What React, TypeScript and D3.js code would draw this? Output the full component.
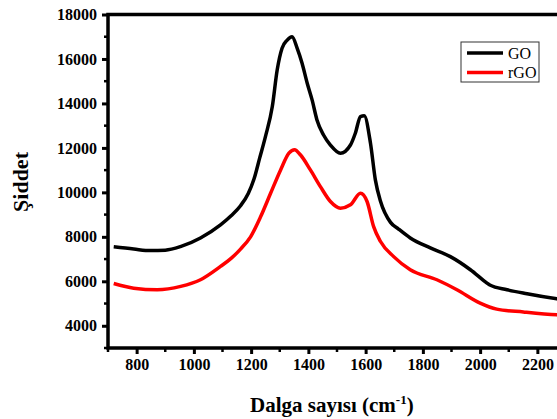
import React, { useEffect, useRef } from "react";
import * as d3 from "d3";

// Raman spectra (wavenumber, intensity)
const goWave = [720, 790, 849, 900, 953, 1023, 1093, 1130, 1163, 1190, 1210, 1230, 1250, 1274, 1291, 1308, 1326, 1343, 1361, 1378, 1396, 1413, 1430, 1453, 1477, 1512, 1547, 1564, 1582, 1595, 1617, 1634, 1652, 1687, 1715, 1756, 1826, 1896, 1966, 2024, 2034, 2094, 2164, 2268, 2300];
const goInt = [7550, 7450, 7380, 7400, 7560, 7950, 8540, 8950, 9400, 9950, 10600, 11550, 12510, 13860, 15500, 16480, 16850, 17000, 16480, 15810, 14910, 14160, 13260, 12580, 12130, 11760, 12130, 12660, 13410, 13450, 12210, 10560, 9600, 8650, 8350, 7950, 7500, 7110, 6520, 5920, 5830, 5620, 5440, 5210, 5150];

const rgoWave = [720, 790, 872, 954, 1023, 1093, 1130, 1163, 1198, 1233, 1268, 1303, 1332, 1352, 1372, 1407, 1442, 1477, 1512, 1547, 1582, 1605, 1628, 1652, 1698, 1756, 1849, 1919, 2000, 2058, 2151, 2268, 2300];
const rgoInt = [5900, 5690, 5620, 5770, 6070, 6670, 7030, 7450, 8000, 8900, 9960, 11010, 11760, 11920, 11690, 11010, 10260, 9590, 9290, 9440, 9960, 9590, 8460, 7790, 7110, 6520, 6070, 5620, 5020, 4750, 4620, 4490, 4470];

const xTicks = [800, 1000, 1200, 1400, 1600, 1800, 2000, 2200];
const yTicks = [4000, 6000, 8000, 10000, 12000, 14000, 16000, 18000];

const seriesNames = ["GO", "rGO"];
const seriesColors = ["#000000", "#ff0000"];

const W = 557;
const H = 419;

const App = () => {
  const svgRef = useRef<SVGSVGElement>(null);

  useEffect(() => {
    const svg = d3.select(svgRef.current);
    svg.selectAll("*").remove();

    const left = 108;
    const right = 566;
    const top = 14.5;
    const bottom = 348;

    const x = d3.scaleLinear().domain([700, 2300]).range([left, right]);
    const y = d3.scaleLinear().domain([3000, 18000]).range([bottom, top]);

    const font = "'Liberation Serif', 'Times New Roman', serif";

    // curves
    const line = d3
      .line<[number, number]>()
      .x((d) => x(d[0]))
      .y((d) => y(d[1]))
      .curve(d3.curveMonotoneX);

    const series = [
      goWave.map((w, i) => [w, goInt[i]] as [number, number]),
      rgoWave.map((w, i) => [w, rgoInt[i]] as [number, number]),
    ];

    series.forEach((s, i) => {
      svg
        .append("path")
        .datum(s)
        .attr("d", line)
        .attr("fill", "none")
        .attr("stroke", seriesColors[i])
        .attr("stroke-width", 3.5)
        .attr("stroke-linejoin", "round");
    });

    // frame
    svg
      .append("rect")
      .attr("x", left)
      .attr("y", top)
      .attr("width", right - left)
      .attr("height", bottom - top)
      .attr("fill", "none")
      .attr("stroke", "#000")
      .attr("stroke-width", 3.5);

    // x axis
    const xAxis = d3
      .axisBottom(x)
      .tickValues(xTicks)
      .tickFormat(d3.format("d"))
      .tickSize(6)
      .tickPadding(5);
    const gx = svg
      .append("g")
      .attr("transform", `translate(0,${bottom})`)
      .call(xAxis)
      .attr("font-family", font)
      .attr("font-weight", "bold")
      .attr("font-size", 16);
    gx.select(".domain").remove();
    gx.selectAll(".tick line").attr("stroke-width", 3);
    gx.selectAll(".tick text").attr("fill", "#000");

    const xMinor = d3.range(700, 2301, 100).filter((v) => !xTicks.includes(v));
    svg
      .append("g")
      .selectAll("line")
      .data(xMinor)
      .enter()
      .append("line")
      .attr("x1", (d) => x(d))
      .attr("x2", (d) => x(d))
      .attr("y1", bottom)
      .attr("y2", bottom + 4)
      .attr("stroke", "#000")
      .attr("stroke-width", 2.5);

    // y axis
    const yAxis = d3
      .axisLeft(y)
      .tickValues(yTicks)
      .tickFormat(d3.format("d"))
      .tickSize(6)
      .tickPadding(5);
    const gy = svg
      .append("g")
      .attr("transform", `translate(${left},0)`)
      .call(yAxis)
      .attr("font-family", font)
      .attr("font-weight", "bold")
      .attr("font-size", 16);
    gy.select(".domain").remove();
    gy.selectAll(".tick line").attr("stroke-width", 3);
    gy.selectAll(".tick text").attr("fill", "#000");

    const yMinor = d3.range(3000, 18001, 1000).filter((v) => !yTicks.includes(v));
    svg
      .append("g")
      .selectAll("line")
      .data(yMinor)
      .enter()
      .append("line")
      .attr("x1", left)
      .attr("x2", left - 4)
      .attr("y1", (d) => y(d))
      .attr("y2", (d) => y(d))
      .attr("stroke", "#000")
      .attr("stroke-width", 2.5);

    // axis titles
    const xt = svg
      .append("text")
      .attr("x", 250)
      .attr("y", 412)
      .attr("font-family", font)
      .attr("font-weight", "bold")
      .attr("font-size", 21)
      .attr("fill", "#000");
    xt.append("tspan").text("Dalga sayısı (cm");
    xt.append("tspan").attr("dy", -8).attr("font-size", 13).text("-1");
    xt.append("tspan").attr("dy", 8).text(")");

    svg
      .append("text")
      .attr("transform", `translate(28,182) rotate(-90)`)
      .attr("text-anchor", "middle")
      .attr("font-family", font)
      .attr("font-weight", "bold")
      .attr("font-size", 22)
      .attr("fill", "#000")
      .text("Şiddet");

    // legend
    const lg = svg.append("g").attr("transform", "translate(461,42)");
    lg.append("rect")
      .attr("width", 78)
      .attr("height", 40)
      .attr("fill", "#fff")
      .attr("stroke", "#333")
      .attr("stroke-width", 1);
    seriesNames.forEach((name, i) => {
      const yy = 11 + i * 19.5;
      lg.append("line")
        .attr("x1", 6)
        .attr("x2", 42)
        .attr("y1", yy)
        .attr("y2", yy)
        .attr("stroke", seriesColors[i])
        .attr("stroke-width", 3.5);
      lg.append("text")
        .attr("x", 47)
        .attr("y", yy + 5.5)
        .attr("font-family", font)
        .attr("font-size", 16)
        .attr("fill", "#000")
        .text(name);
    });
  }, []);

  return (
    <svg
      ref={svgRef}
      width={W}
      height={H}
      style={{ position: "absolute", left: 0, top: 0, background: "#fff" }}
    />
  );
};

export default App;
